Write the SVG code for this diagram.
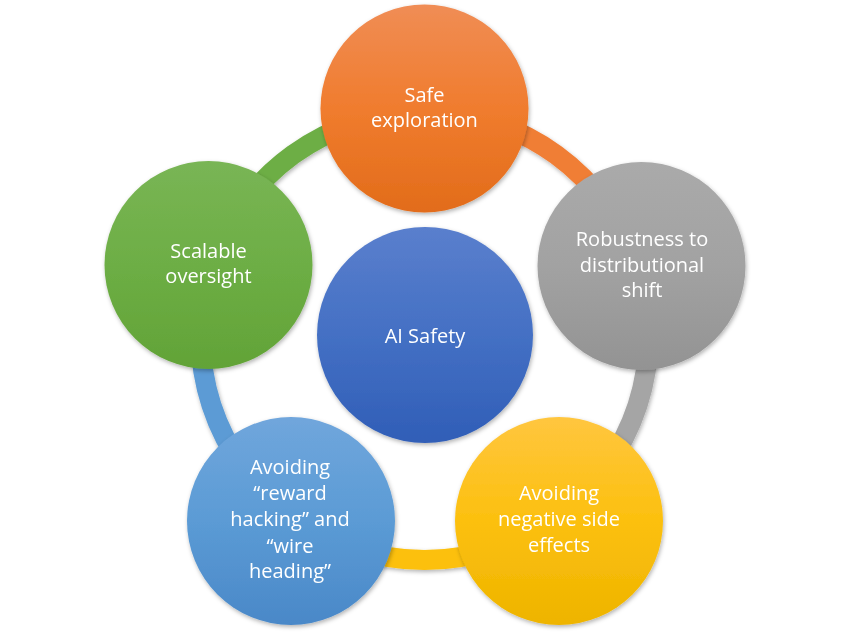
<svg xmlns="http://www.w3.org/2000/svg" width="850" height="632" viewBox="0 0 850 632">
<defs>
<style>
.lbl{font-family:"Open Sans","Lato","Liberation Sans",sans-serif;font-size:20px;fill:#ffffff;text-anchor:middle}
.ring{fill:none;stroke-width:20}
</style>
<filter id="sh" x="-20%" y="-20%" width="140%" height="140%">
<feDropShadow dx="1" dy="2" stdDeviation="2" flood-color="#000" flood-opacity="0.3"/>
</filter>
<linearGradient id="gOr" x1="0" y1="0" x2="0" y2="1"><stop offset="0" stop-color="#F08D55"/><stop offset="0.5" stop-color="#F07C2E"/><stop offset="1" stop-color="#E26C1A"/></linearGradient>
<linearGradient id="gGr" x1="0" y1="0" x2="0" y2="1"><stop offset="0" stop-color="#79B555"/><stop offset="0.5" stop-color="#6DAE45"/><stop offset="1" stop-color="#62A337"/></linearGradient>
<linearGradient id="gGy" x1="0" y1="0" x2="0" y2="1"><stop offset="0" stop-color="#AAAAAA"/><stop offset="0.5" stop-color="#A2A2A2"/><stop offset="1" stop-color="#939393"/></linearGradient>
<linearGradient id="gYe" x1="0" y1="0" x2="0" y2="1"><stop offset="0" stop-color="#FFC63F"/><stop offset="0.5" stop-color="#FCC00E"/><stop offset="1" stop-color="#EEB400"/></linearGradient>
<linearGradient id="gBl" x1="0" y1="0" x2="0" y2="1"><stop offset="0" stop-color="#70A6DC"/><stop offset="0.5" stop-color="#5B9BD5"/><stop offset="1" stop-color="#4A88C8"/></linearGradient>
<linearGradient id="gCe" x1="0" y1="0" x2="0" y2="1"><stop offset="0" stop-color="#5A7FCD"/><stop offset="0.5" stop-color="#4470C4"/><stop offset="1" stop-color="#305EB7"/></linearGradient>
</defs>
<rect width="850" height="632" fill="#ffffff"/>
<g id="connectors" filter="url(#sh)">
<path class="ring" stroke="#F07E36" d="M424.5 112 A224 224 0 0 1 637.54 266.78"/>
<path class="ring" stroke="#A5A5A5" d="M637.54 266.78 A224 224 0 0 1 556.17 517.22"/>
<path class="ring" stroke="#FCC010" d="M556.17 517.22 A224 224 0 0 1 292.83 517.22"/>
<path class="ring" stroke="#5B9BD5" d="M292.83 517.22 A224 224 0 0 1 211.46 266.78"/>
<path class="ring" stroke="#6DAE45" d="M211.46 266.78 A224 224 0 0 1 424.5 112"/>
</g>
<g id="center" filter="url(#sh)">
<circle cx="425" cy="335" r="108" fill="url(#gCe)"/>
<text class="lbl" x="425" y="343">AI Safety</text>
</g>
<g id="safe-exploration" filter="url(#sh)">
<circle cx="424.5" cy="108.5" r="104" fill="url(#gOr)"/>
<text class="lbl" x="424.5" y="102">Safe</text>
<text class="lbl" x="424.5" y="127">exploration</text>
</g>
<g id="robustness" filter="url(#sh)">
<circle cx="641.5" cy="266" r="104" fill="url(#gGy)"/>
<text class="lbl" x="642" y="246">Robustness to</text>
<text class="lbl" x="642" y="272">distributional</text>
<text class="lbl" x="642" y="297">shift</text>
</g>
<g id="negative-side-effects" filter="url(#sh)">
<circle cx="559" cy="521" r="104" fill="url(#gYe)"/>
<text class="lbl" x="559" y="500">Avoiding</text>
<text class="lbl" x="559" y="526">negative side</text>
<text class="lbl" x="559" y="552">effects</text>
</g>
<g id="reward-hacking" filter="url(#sh)">
<circle cx="291" cy="521" r="104" fill="url(#gBl)"/>
<text class="lbl" x="290" y="474">Avoiding</text>
<text class="lbl" x="290" y="500">“reward</text>
<text class="lbl" x="290" y="526">hacking” and</text>
<text class="lbl" x="290" y="553">“wire</text>
<text class="lbl" x="290" y="578">heading”</text>
</g>
<g id="scalable-oversight" filter="url(#sh)">
<circle cx="208.5" cy="265" r="104" fill="url(#gGr)"/>
<text class="lbl" x="208.5" y="258">Scalable</text>
<text class="lbl" x="208.5" y="283">oversight</text>
</g>
</svg>
